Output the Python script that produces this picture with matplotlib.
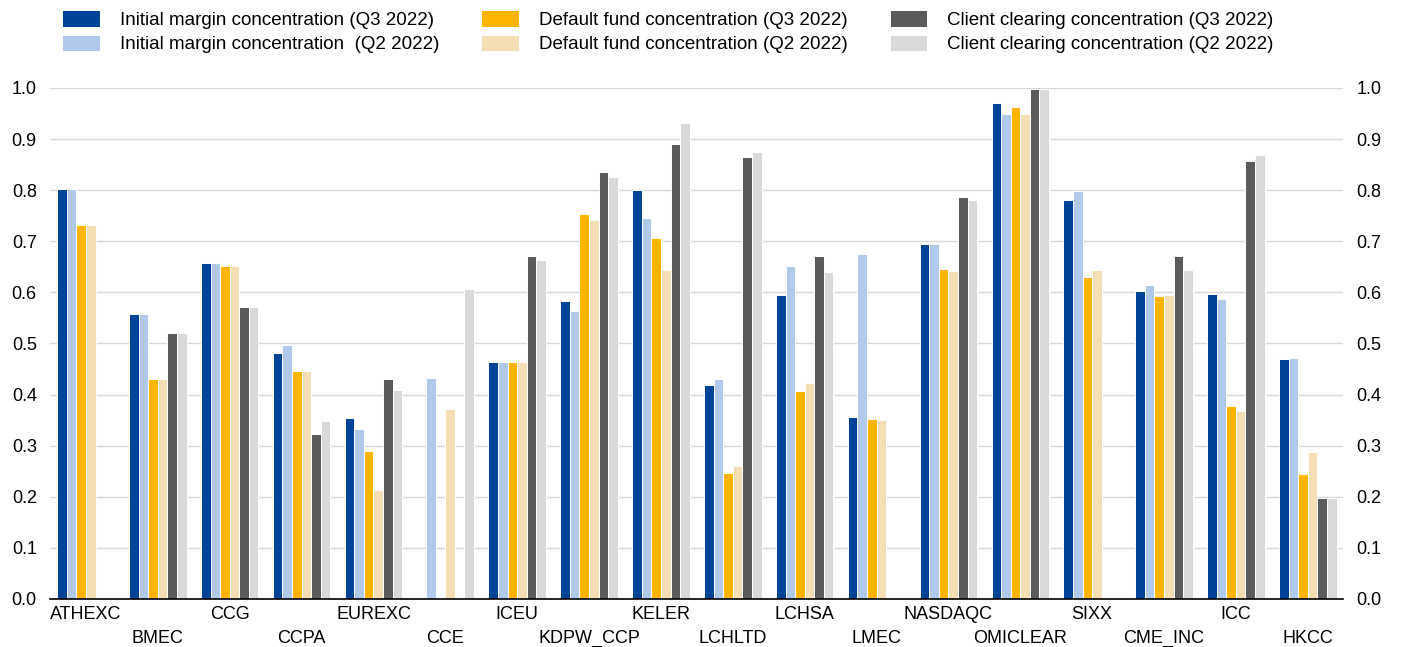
import numpy as np
import matplotlib
matplotlib.use("Agg")
import matplotlib.pyplot as plt

plt.rcParams["font.family"] = ["Liberation Sans", "DejaVu Sans"]

# Data (NaN = no bar shown).
nan = np.nan
ccps = ["ATHEXC", "BMEC", "CCG", "CCPA", "EUREXC", "CCE", "ICEU", "KDPW_CCP",
        "KELER", "LCHLTD", "LCHSA", "LMEC", "NASDAQC", "OMICLEAR", "SIXX",
        "CME_INC", "ICC", "HKCC"]
im_q3 = [0.802, 0.557, 0.657, 0.482, 0.354, nan, 0.464, 0.584, 0.801,
         0.419, 0.595, 0.356, 0.695, 0.970, 0.781, 0.603, 0.597, 0.469]
im_q2 = [0.802, 0.557, 0.657, 0.497, 0.332, 0.432, 0.464, 0.564, 0.745,
         0.431, 0.651, 0.675, 0.695, 0.950, 0.798, 0.615, 0.588, 0.471]
df_q3 = [0.731, 0.431, 0.651, 0.446, 0.290, nan, 0.463, 0.753, 0.706,
         0.247, 0.408, 0.352, 0.646, 0.962, 0.631, 0.593, 0.377, 0.244]
df_q2 = [0.731, 0.431, 0.651, 0.446, 0.213, 0.372, 0.464, 0.741, 0.644,
         0.261, 0.423, 0.350, 0.641, 0.950, 0.644, 0.595, 0.367, 0.287]
cc_q3 = [nan, 0.520, 0.571, 0.322, 0.431, nan, 0.671, 0.835, 0.890,
         0.864, 0.671, nan, 0.787, 0.998, nan, 0.672, 0.858, 0.197]
cc_q2 = [nan, 0.520, 0.571, 0.348, 0.409, 0.606, 0.663, 0.825, 0.932,
         0.874, 0.640, nan, 0.780, 0.998, nan, 0.644, 0.868, 0.197]

series = [
    ("Initial margin concentration (Q3 2022)", im_q3, "#00449A"),
    ("Initial margin concentration  (Q2 2022)", im_q2, "#B1C9EB"),
    ("Default fund concentration (Q3 2022)", df_q3, "#FFB400"),
    ("Default fund concentration (Q2 2022)", df_q2, "#F5DDB4"),
    ("Client clearing concentration (Q3 2022)", cc_q3, "#5B5B5B"),
    ("Client clearing concentration (Q2 2022)", cc_q2, "#D9D9D9"),
]

fig = plt.figure(figsize=(14.01, 6.47), dpi=100)
ax = fig.add_axes([0.0357, 0.0742, 0.9229, 0.7898])

x = np.arange(len(ccps))
width = 0.8 / 6
handles = []
for i, (label, vals, color) in enumerate(series):
    b = ax.bar(x - 0.4 + width * (i + 0.5), vals, width, color=color,
               edgecolor="white", linewidth=0.7, label=label, zorder=3)
    handles.append(b)

ax.set_xlim(-0.5, 17.49)
ax.set_ylim(0, 1.0)
ax.set_yticks(np.arange(0, 1.01, 0.1))
ax.yaxis.set_major_formatter(matplotlib.ticker.FormatStrFormatter("%.1f"))
ax.grid(axis="y", color="#D9D9D9", linewidth=1.0, zorder=0)
ax.tick_params(axis="y", length=0, labelsize=13, pad=9.5,
               labelleft=True, labelright=True)

# x labels staggered on two rows: even ones as major ticks, odd ones as minor
ax.set_xticks(x[::2])
ax.set_xticklabels(ccps[::2])
ax.set_xticks(x[1::2], minor=True)
ax.set_xticklabels(ccps[1::2], minor=True)
ax.tick_params(axis="x", which="major", length=0, labelsize=13, pad=5)
ax.tick_params(axis="x", which="minor", length=0, labelsize=13, pad=22)

for side in ["top", "left", "right"]:
    ax.spines[side].set_visible(False)
ax.spines["bottom"].set_color("black")
ax.spines["bottom"].set_linewidth(1.2)
ax.spines["bottom"].set_zorder(4)

fig.legend(handles=handles, loc="upper left", bbox_to_anchor=(0.0445, 0.984),
           ncol=3, frameon=False, fontsize=13.5, handlelength=2.0,
           handleheight=0.95, handletextpad=1.05, columnspacing=2.27,
           labelspacing=0.3, borderpad=0, borderaxespad=0)

fig.savefig("out.png", dpi=100)
